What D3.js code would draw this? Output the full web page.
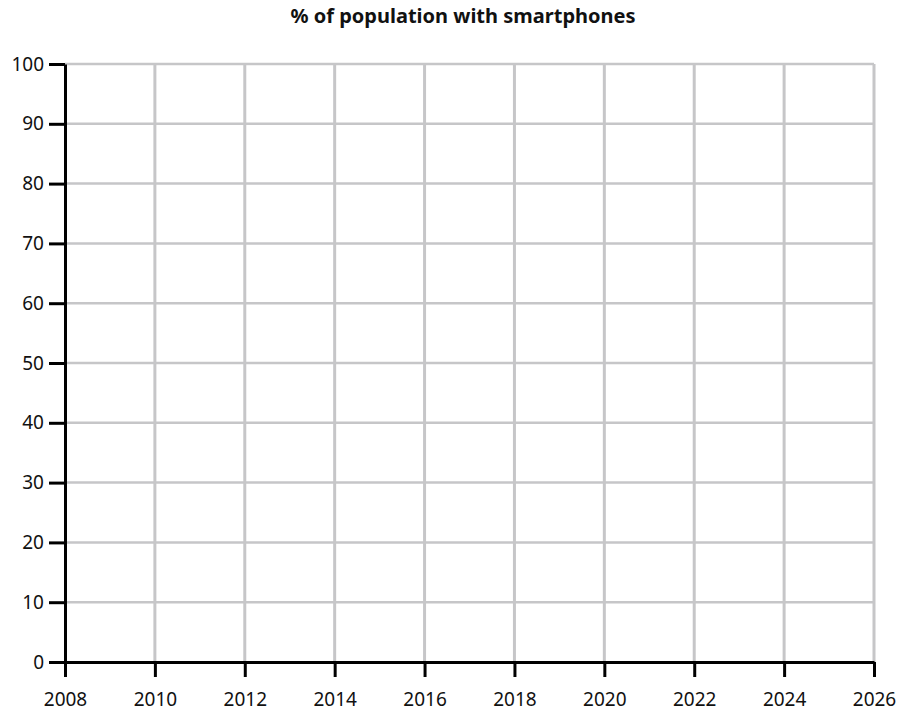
<!DOCTYPE html>
<html>
<head>
<meta charset="utf-8">
<script src="https://cdn.jsdelivr.net/npm/d3@7"></script>
<style>
  body { margin: 0; background: #fff; }
  svg { display: block; font-family: "Noto Sans", "Open Sans", sans-serif; }
</style>
</head>
<body>
<div id="chart"></div>
<script>
// chart data (empty template grid)
const title = "% of population with smartphones";
const yearTicks = [2008, 2010, 2012, 2014, 2016, 2018, 2020, 2022, 2024, 2026];
const percentTicks = [0, 10, 20, 30, 40, 50, 60, 70, 80, 90, 100];

const width = 899;
const height = 715;
const margin = { top: 64, right: 25, bottom: 53, left: 65 };

const svg = d3.select("#chart")
    .append("svg")
    .attr("width", width)
    .attr("height", height);

const x = d3.scaleLinear()
    .domain([2008, 2026])
    .range([margin.left, width - margin.right]);

const y = d3.scaleLinear()
    .domain([0, 100])
    .range([height - margin.bottom, margin.top]);

// Title
svg.append("text")
    .attr("x", 463)
    .attr("y", 23)
    .attr("text-anchor", "middle")
    .style("font-size", "20px")
    .style("font-weight", "bold")
    .style("fill", "#111")
    .text(title);

// Grid lines
svg.append("g")
    .selectAll("line")
    .data(percentTicks.filter(d => d > 0))
    .enter().append("line")
    .attr("x1", x(2008))
    .attr("x2", x(2026))
    .attr("y1", d => y(d))
    .attr("y2", d => y(d))
    .attr("stroke", "#c6c6c8")
    .attr("stroke-width", 2.5);

svg.append("g")
    .selectAll("line")
    .data(yearTicks.filter(d => d > 2008))
    .enter().append("line")
    .attr("x1", d => x(d))
    .attr("x2", d => x(d))
    .attr("y1", y(100))
    .attr("y2", y(0))
    .attr("stroke", "#c6c6c8")
    .attr("stroke-width", 3);

// Axes
const xAxis = svg.append("g")
    .attr("transform", `translate(0,${y(0)})`)
    .call(d3.axisBottom(x).tickValues(yearTicks).tickFormat(d3.format("d"))
        .tickSize(15).tickSizeOuter(0).tickPadding(16));

const yAxis = svg.append("g")
    .attr("transform", `translate(${x(2008)},0)`)
    .call(d3.axisLeft(y).tickValues(percentTicks)
        .tickSize(16).tickSizeOuter(0).tickPadding(5));

[xAxis, yAxis].forEach(g => {
    g.select(".domain").attr("stroke", "#000").attr("stroke-width", 3);
    g.selectAll(".tick line").attr("stroke", "#000").attr("stroke-width", 3);
    g.selectAll(".tick text")
        .style("font-size", "19px")
        .style("font-family", "\"Noto Sans\", sans-serif")
        .attr("fill", "#111");
});
</script>
</body>
</html>
